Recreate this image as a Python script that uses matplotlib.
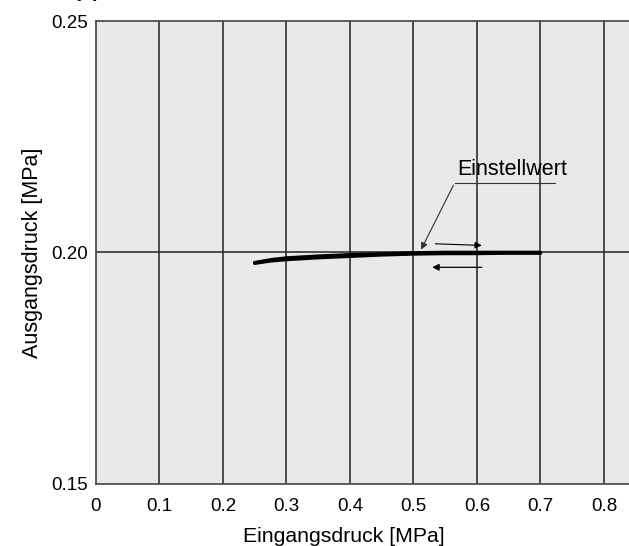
import matplotlib.pyplot as plt

plt.rcParams["font.family"] = ["Liberation Sans", "DejaVu Sans"]

# hysteresis of the regulated pressure
inlet_up = [0.25, 0.275, 0.30, 0.35, 0.40, 0.45, 0.50, 0.55, 0.60, 0.65, 0.70]
outlet_up = [0.1978, 0.1984, 0.1988, 0.1992, 0.1995, 0.1997, 0.1999, 0.2000, 0.2000, 0.2000, 0.2000]
inlet_down = [0.70, 0.65, 0.60, 0.55, 0.50, 0.45, 0.40, 0.35, 0.30, 0.275, 0.25]
outlet_down = [0.1999, 0.1999, 0.1998, 0.1998, 0.1997, 0.1995, 0.1992, 0.1989, 0.1985, 0.1982, 0.1977]

x_ticks = [0, 0.1, 0.2, 0.3, 0.4, 0.5, 0.6, 0.7, 0.8]
x_ticklabels = ["0", "0.1", "0.2", "0.3", "0.4", "0.5", "0.6", "0.7", "0.8"]
y_ticks = [0.15, 0.20, 0.25]
y_ticklabels = ["0.15", "0.20", "0.25"]

set_point = (0.51, 0.2001)
label_pos = (0.655, 0.2179)

fig = plt.figure(figsize=(6.29, 5.46), dpi=100)
ax = fig.add_axes([0.1526, 0.1136, 0.9086, 0.8479])
ax.set_facecolor("#e8e9e8")
ax.set_xlim(0, 0.9)
ax.set_ylim(0.15, 0.25)

for xv in x_ticks[1:]:
    ax.axvline(xv, color="#222222", lw=1.1, zorder=1)
ax.axhline(0.20, color="#222222", lw=1.1, zorder=1)

ax.plot(inlet_up, outlet_up, color="black", lw=2.6, solid_capstyle="round", zorder=3)
ax.plot(inlet_down, outlet_down, color="black", lw=2.6, solid_capstyle="round", zorder=3)

# direction arrows
ax.annotate("", xy=(0.612, 0.2015), xytext=(0.53, 0.2019),
            arrowprops=dict(arrowstyle="-|>", color="black", lw=0.8, mutation_scale=10))
ax.annotate("", xy=(0.525, 0.1968), xytext=(0.612, 0.1968),
            arrowprops=dict(arrowstyle="-|>", color="black", lw=0.9, mutation_scale=10))

# set point leader
ax.plot([0.723, 0.565], [0.2151, 0.2151], color="#333333", lw=0.8, zorder=2)
ax.annotate("", xy=set_point, xytext=(0.565, 0.2151),
            arrowprops=dict(arrowstyle="-|>", color="#333333", lw=0.8, mutation_scale=10))
ax.text(label_pos[0], label_pos[1], "Einstellwert", fontsize=15.5, ha="center", va="center")

ax.set_xticks(x_ticks)
ax.set_xticklabels(x_ticklabels, fontsize=13.5)
ax.set_yticks(y_ticks)
ax.set_yticklabels(y_ticklabels, fontsize=13.5)
ax.tick_params(axis="x", length=0, pad=10)
ax.tick_params(axis="y", length=0, pad=6)
for s in ax.spines.values():
    s.set_color("#444444")
    s.set_linewidth(1.2)

ax.set_xlabel("Eingangsdruck [MPa]", fontsize=15.3)
ax.xaxis.set_label_coords(0.434, -0.092)
ax.set_ylabel("Ausgangsdruck [MPa]", fontsize=15.5, labelpad=6)

fig.text(0.095, 1.006, "A(1)", fontsize=15, fontweight="bold", ha="left", va="baseline")

fig.savefig("out.png", dpi=100)
